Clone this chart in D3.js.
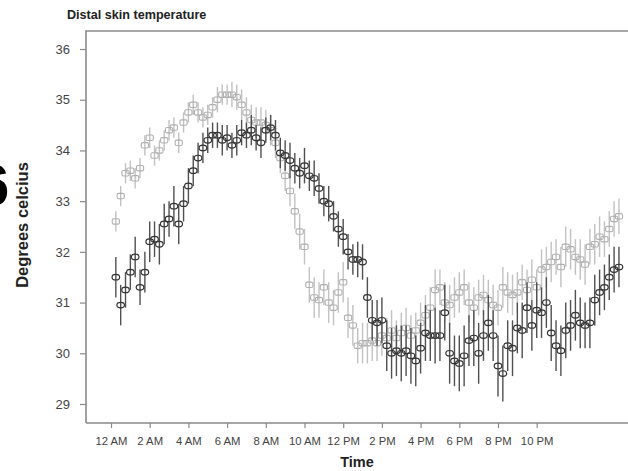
<!DOCTYPE html>
<html><head><meta charset="utf-8">
<script src="https://cdn.jsdelivr.net/npm/d3@7"></script>
<style>body{margin:0;background:#fff}svg{display:block}text{font-family:"Liberation Sans",Arial,sans-serif}</style>
</head><body><svg id="c" width="628" height="471"></svg>
<script>
// ---- data ----
const tickHours = [0,2,4,6,8,10,12,14,16,18,20,22];
const tickLabels = ["12 AM","2 AM","4 AM","6 AM","8 AM","10 AM","12 PM","2 PM","4 PM","6 PM","8 PM","10 PM"];
const yTicks = [29,30,31,32,33,34,35,36];
// measurement times (hours after midnight, every 15 min)
const timesStart = 0.25, timesStep = 0.25;
const darkMean = [31.5,30.95,31.25,31.6,31.9,31.3,31.6,32.2,32.25,32.15,
32.55,32.65,32.9,32.55,32.95,33.3,33.6,33.85,34.05,34.2,
34.3,34.3,34.2,34.25,34.1,34.2,34.35,34.3,34.4,34.25,
34.15,34.4,34.45,34.3,33.95,33.9,33.8,33.65,33.55,33.7,
33.5,33.45,33.25,33.0,32.95,32.7,32.45,32.3,32.0,31.85,
31.85,31.8,31.1,30.65,30.6,30.65,30.15,30.0,30.05,30.0,
30.05,29.95,29.85,30.1,30.4,30.35,30.35,30.35,30.8,30.0,
29.85,29.8,29.95,30.25,30.3,30.0,30.35,30.6,30.35,29.75,
29.6,30.15,30.1,30.5,30.45,30.9,30.55,30.85,30.8,31.0,
30.4,30.15,30.05,30.45,30.55,30.75,30.6,30.55,30.6,31.05,
31.2,31.3,31.5,31.65,31.7];
const darkErr = [0.4,0.4,0.35,0.35,0.4,0.35,0.4,0.4,0.35,0.4,
0.4,0.35,0.4,0.4,0.35,0.35,0.3,0.3,0.3,0.25,
0.25,0.25,0.3,0.25,0.25,0.3,0.25,0.25,0.3,0.25,
0.3,0.25,0.25,0.3,0.3,0.3,0.35,0.3,0.3,0.35,
0.3,0.35,0.3,0.3,0.35,0.3,0.35,0.35,0.35,0.3,
0.35,0.35,0.4,0.4,0.45,0.45,0.5,0.5,0.5,0.55,
0.5,0.55,0.5,0.5,0.55,0.5,0.55,0.5,0.55,0.6,
0.5,0.55,0.6,0.5,0.55,0.6,0.5,0.55,0.5,0.6,
0.55,0.5,0.55,0.5,0.55,0.5,0.5,0.55,0.5,0.5,
0.55,0.5,0.5,0.55,0.5,0.5,0.5,0.45,0.5,0.5,
0.45,0.45,0.45,0.45,0.4];
const lightMean = [32.6,33.1,33.55,33.6,33.45,33.65,34.1,34.25,33.9,34.0,
34.2,34.4,34.45,34.15,34.55,34.75,34.9,34.75,34.65,34.7,
34.85,35.0,35.1,35.1,35.1,35.05,34.9,34.75,34.6,34.55,
34.55,34.5,34.4,34.15,33.85,33.5,33.2,32.8,32.4,32.1,
31.35,31.1,31.05,31.3,31.0,30.9,31.2,31.4,30.7,30.55,
30.15,30.2,30.2,30.25,30.2,30.35,30.3,30.45,30.3,30.4,
30.5,30.35,30.45,30.6,30.75,30.9,31.25,31.3,31.0,30.95,
31.1,31.2,31.3,31.0,30.9,31.1,31.15,31.05,30.95,30.9,
31.3,31.2,31.15,31.2,31.4,31.25,31.45,31.3,31.65,31.7,
31.8,31.9,31.7,32.1,32.05,31.9,31.85,31.75,32.1,32.15,
32.3,32.25,32.45,32.65,32.7];
const lightErr = [0.2,0.2,0.2,0.2,0.2,0.2,0.2,0.2,0.2,0.2,
0.2,0.2,0.2,0.2,0.2,0.2,0.2,0.2,0.2,0.2,
0.2,0.25,0.2,0.2,0.25,0.25,0.3,0.3,0.3,0.3,
0.3,0.3,0.3,0.3,0.3,0.3,0.3,0.35,0.35,0.35,
0.35,0.4,0.35,0.35,0.4,0.35,0.4,0.4,0.4,0.4,
0.35,0.4,0.4,0.4,0.35,0.4,0.4,0.4,0.35,0.4,
0.4,0.4,0.35,0.4,0.4,0.4,0.4,0.35,0.4,0.4,
0.4,0.4,0.35,0.4,0.4,0.35,0.4,0.4,0.4,0.35,
0.4,0.4,0.4,0.4,0.35,0.4,0.4,0.35,0.4,0.4,
0.4,0.35,0.4,0.4,0.4,0.35,0.4,0.4,0.35,0.4,
0.4,0.35,0.35,0.35,0.35];

// ---- chart ----
const svg = d3.select("#c");
const pL = 86, pR = 628, pT = 31, pB = 423;
const x = d3.scaleLinear().domain([0, 24]).range([111, 111 + 24 * 19.35]);
const y = d3.scaleLinear().domain([29, 36]).range([404, 49]);
const times = darkMean.map((_, i) => timesStart + i * timesStep);

// cropped panel letter at left edge
svg.append("text").attr("x", -23).attr("y", 205).attr("font-size", 58)
  .attr("font-weight", "bold").attr("fill", "#000").text("6");

// title
svg.append("text").attr("x", 67).attr("y", 19).attr("font-size", 12.6)
  .attr("font-weight", "bold").attr("fill", "#222").text("Distal skin temperature");

// frame
const frameCol = "#8a8a8a";
svg.append("path").attr("d", `M${pL},${pB}V${pT}H${pR}M${pL},${pB}H${pR}`)
  .attr("fill", "none").attr("stroke", frameCol).attr("stroke-width", 1.6);

// y axis
const ya = svg.append("g").attr("transform", `translate(${pL},0)`)
  .call(d3.axisLeft(y).tickValues(yTicks).tickSize(6).tickPadding(10).tickFormat(d3.format("d")));
ya.select(".domain").remove();
ya.selectAll("line").attr("stroke", frameCol).attr("stroke-width", 1.2);
ya.selectAll("text").attr("font-size", 13).attr("fill", "#444").style("font-family", "Liberation Sans, Arial, sans-serif");

// x axis
const xa = svg.append("g").attr("transform", `translate(0,${pB})`)
  .call(d3.axisBottom(x).tickValues(tickHours).tickSize(5).tickPadding(9)
    .tickFormat((d, i) => tickLabels[i]));
xa.select(".domain").remove();
xa.selectAll("line").attr("stroke", frameCol).attr("stroke-width", 1.2);
xa.selectAll("text").attr("font-size", 11.3).attr("fill", "#444").style("font-family", "Liberation Sans, Arial, sans-serif");

// axis titles
svg.append("text").attr("x", 357).attr("y", 467).attr("text-anchor", "middle")
  .attr("font-size", 14.5).attr("font-weight", "bold").attr("fill", "#222").text("Time");
svg.append("text").attr("transform", "translate(28,225) rotate(-90)").attr("text-anchor", "middle")
  .attr("font-size", 16.5).attr("font-weight", "bold").attr("fill", "#222").text("Degrees celcius");

function drawSeries(mean, err, col, barCol, shape) {
  const g = svg.append("g");
  const data = mean.map((m, i) => ({ t: times[i], m, e: err[i] }));
  g.selectAll("line").data(data).join("line")
    .attr("x1", d => x(d.t)).attr("x2", d => x(d.t))
    .attr("y1", d => y(d.m - d.e)).attr("y2", d => y(d.m + d.e))
    .attr("stroke", barCol).attr("stroke-width", 1.4);
  if (shape === "circle") {
    g.selectAll("ellipse").data(data).join("ellipse")
      .attr("cx", d => x(d.t)).attr("cy", d => y(d.m)).attr("rx", 3.8).attr("ry", 2.8)
      .attr("fill", "none").attr("stroke", col).attr("stroke-width", 1.2);
  } else {
    g.selectAll("rect").data(data).join("rect")
      .attr("x", d => x(d.t) - 3.6).attr("y", d => y(d.m) - 2.7).attr("width", 7.2).attr("height", 5.4)
      .attr("rx", 1.5).attr("fill", "none").attr("stroke", col).attr("stroke-width", 1.1);
  }
}
drawSeries(lightMean, lightErr, "#b0b0b0", "#c2c2c2", "square");
drawSeries(darkMean, darkErr, "#333", "#505050", "circle");
</script></body></html>
